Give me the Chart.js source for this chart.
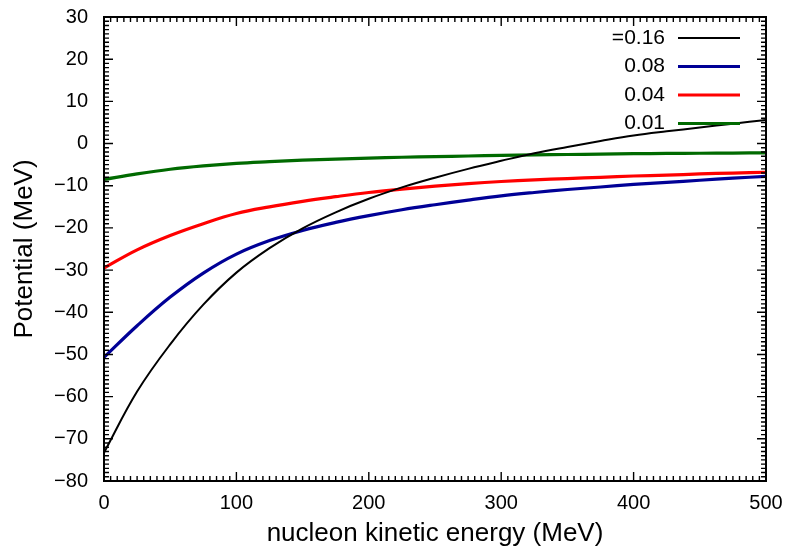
<!DOCTYPE html>
<html>
<head>
<meta charset="utf-8">
<script src="https://cdn.jsdelivr.net/npm/chart.js@4"></script>
<style>
  html, body { margin: 0; padding: 0; background: #fff; }
</style>
</head>
<body>
<canvas id="myChart" width="790" height="549"></canvas>
<script>
// kinetic energy grid (MeV) and potential values (MeV)
const energy = [0, 25, 50, 75, 100, 125, 150, 175, 200, 225, 250, 275, 300, 325, 350, 375, 400, 425, 450, 475, 500];
const u016 = [-73.3, -58.8, -47.6, -38.2, -30.6, -24.8, -20.1, -16.3, -13.1, -10.4, -8.1, -6.0, -4.1, -2.3, -0.8, 0.6, 1.9, 2.9, 3.8, 4.7, 5.6];
const u008 = [-50.7, -43.2, -36.4, -30.7, -26.2, -23.0, -20.6, -18.7, -17.1, -15.7, -14.5, -13.4, -12.4, -11.6, -10.9, -10.3, -9.7, -9.2, -8.7, -8.2, -7.8];
const u004 = [-29.5, -25.2, -21.8, -19.0, -16.6, -15.0, -13.7, -12.6, -11.6, -10.8, -10.1, -9.5, -9.0, -8.6, -8.3, -8.0, -7.7, -7.5, -7.2, -7.0, -6.8];
const u001 = [-8.5, -7.2, -6.1, -5.3, -4.7, -4.3, -3.95, -3.7, -3.45, -3.25, -3.1, -2.95, -2.8, -2.7, -2.6, -2.5, -2.4, -2.35, -2.3, -2.25, -2.2];

const seriesLabels = ['=0.16', '0.08', '0.04', '0.01'];
const xTicks = [0, 100, 200, 300, 400, 500];
const yTicks = [-80, -70, -60, -50, -40, -30, -20, -10, 0, 10, 20, 30];

const font = 'Liberation Sans, Arial, sans-serif';

function pts(vals) {
  return energy.map((e, i) => ({x: e, y: vals[i]}));
}

// gnuplot style frame with inward ticks + legend on the right
const gnuFrame = {
  id: 'gnuFrame',
  afterDraw(chart) {
    const {ctx, chartArea: a, scales: {x, y}} = chart;
    ctx.save();
    ctx.strokeStyle = '#000';
    ctx.lineWidth = 1.4;
    ctx.beginPath();
    for (let v = 0; v <= 500; v += 5) {
      const px = x.getPixelForValue(v);
      const len = v % 100 === 0 ? 9 : 5;
      ctx.moveTo(px, a.bottom); ctx.lineTo(px, a.bottom - len);
      ctx.moveTo(px, a.top); ctx.lineTo(px, a.top + len);
    }
    for (let v = -80; v <= 30; v += 1) {
      const py = y.getPixelForValue(v);
      const len = v % 10 === 0 ? 9 : 5;
      ctx.moveTo(a.left, py); ctx.lineTo(a.left + len, py);
      ctx.moveTo(a.right, py); ctx.lineTo(a.right - len, py);
    }
    ctx.stroke();
    ctx.lineWidth = 2;
    ctx.strokeRect(a.left, a.top, a.right - a.left, a.bottom - a.top);

    // legend
    ctx.font = '21px ' + font;
    ctx.textAlign = 'right';
    ctx.textBaseline = 'middle';
    chart.data.datasets.forEach((ds, i) => {
      const cy = 38 + i * 28.5;
      ctx.fillStyle = '#000';
      ctx.fillText(ds.label, 665, cy);
      ctx.strokeStyle = ds.borderColor;
      ctx.lineWidth = ds.borderWidth;
      ctx.beginPath();
      ctx.moveTo(678, cy); ctx.lineTo(740, cy);
      ctx.stroke();
    });
    ctx.restore();
  }
};

const colors = ['#000000', '#000096', '#ff0000', '#006a00'];
const widths = [2, 3.2, 3.2, 3.2];
const values = [u016, u008, u004, u001];

function minusLabel(v) {
  return v < 0 ? '\u2212' + Math.abs(v) : String(v);
}

new Chart(document.getElementById('myChart'), {
  type: 'line',
  data: {
    datasets: values.map((v, i) => ({
      label: seriesLabels[i],
      data: pts(v),
      borderColor: colors[i],
      borderWidth: widths[i],
      pointRadius: 0,
      tension: 0.4,
      fill: false
    }))
  },
  options: {
    responsive: false,
    animation: false,
    layout: { padding: { top: 17, right: 24, left: 0, bottom: 0 } },
    plugins: { legend: { display: false }, tooltip: { enabled: false } },
    scales: {
      x: {
        type: 'linear',
        min: 0, max: 500,
        afterFit(scale) {
          scale.height = 68;
          scale.paddingLeft = 0; scale.paddingRight = 0;
        },
        afterBuildTicks(scale) { scale.ticks = xTicks.map(v => ({value: v})); },
        grid: { display: false, drawTicks: false },
        border: { display: false },
        ticks: { color: '#000', padding: 10, font: { family: font, size: 20 } },
        title: {
          display: true, text: 'nucleon kinetic energy (MeV)', color: '#000',
          padding: { top: 0, bottom: 0 }, font: { family: font, size: 26 }
        }
      },
      y: {
        type: 'linear',
        min: -80, max: 30,
        afterFit(scale) {
          scale.width = 104;
          scale.paddingTop = 0; scale.paddingBottom = 0;
        },
        afterBuildTicks(scale) { scale.ticks = yTicks.map(v => ({value: v})); },
        grid: { display: false, drawTicks: false },
        border: { display: false },
        ticks: { color: '#000', padding: 16, font: { family: font, size: 20 }, callback: minusLabel },
        title: {
          display: true, text: 'Potential (MeV)', color: '#000',
          padding: { top: 9, bottom: 0 }, font: { family: font, size: 26 }
        }
      }
    }
  },
  plugins: [gnuFrame]
});
</script>
</body>
</html>
